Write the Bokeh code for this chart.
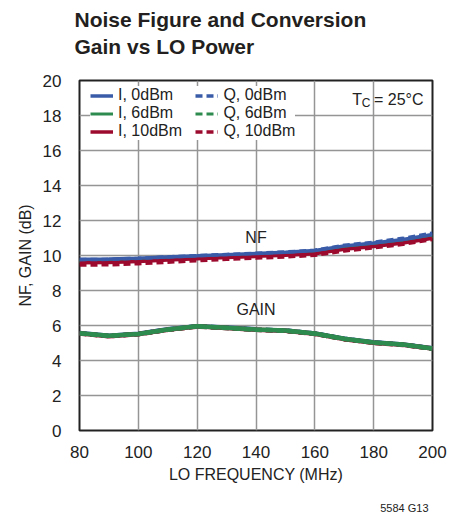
from bokeh.plotting import figure
from bokeh.models import Range1d, FixedTicker, Legend, LegendItem, Label, Title
from bokeh.embed import file_html
from bokeh.resources import INLINE

# ---- data ----
freq = [80, 90, 100, 110, 120, 130, 140, 150, 160, 170, 180, 190, 200]

nf_i0 = [9.78, 9.80, 9.85, 9.92, 9.98, 10.05, 10.12, 10.18, 10.28, 10.55, 10.72, 10.92, 11.20]
nf_q0 = [9.76, 9.78, 9.84, 9.92, 9.99, 10.06, 10.13, 10.20, 10.30, 10.58, 10.76, 10.98, 11.28]
nf_i6 = [9.68, 9.70, 9.75, 9.83, 9.90, 9.97, 10.04, 10.10, 10.20, 10.45, 10.62, 10.82, 11.08]
nf_q6 = [9.66, 9.68, 9.74, 9.82, 9.89, 9.96, 10.03, 10.09, 10.19, 10.44, 10.61, 10.81, 11.06]
nf_i10 = [9.58, 9.60, 9.66, 9.74, 9.81, 9.88, 9.95, 10.01, 10.10, 10.35, 10.52, 10.72, 10.98]
nf_q10 = [9.45, 9.47, 9.53, 9.62, 9.70, 9.78, 9.85, 9.92, 10.01, 10.26, 10.44, 10.64, 10.92]

gain_i0 = [5.57, 5.42, 5.53, 5.78, 5.96, 5.88, 5.78, 5.72, 5.55, 5.25, 5.04, 4.92, 4.70]
gain_q0 = [5.56, 5.41, 5.52, 5.77, 5.96, 5.87, 5.77, 5.71, 5.54, 5.24, 5.03, 4.91, 4.69]
gain_i6 = [5.56, 5.41, 5.52, 5.77, 5.96, 5.87, 5.77, 5.71, 5.54, 5.24, 5.03, 4.91, 4.69]
gain_q6 = [5.55, 5.40, 5.51, 5.76, 5.95, 5.86, 5.76, 5.70, 5.53, 5.23, 5.02, 4.90, 4.68]
gain_i10 = [5.55, 5.39, 5.51, 5.76, 5.95, 5.86, 5.76, 5.70, 5.53, 5.22, 5.02, 4.90, 4.68]
gain_q10 = [5.54, 5.39, 5.50, 5.75, 5.94, 5.86, 5.75, 5.69, 5.52, 5.22, 5.01, 4.89, 4.67]

x_ticks = [80, 100, 120, 140, 160, 180, 200]
y_ticks = [0, 2, 4, 6, 8, 10, 12, 14, 16, 18, 20]

title_lines = ["Noise Figure and Conversion", "Gain vs LO Power"]
x_label = "LO FREQUENCY (MHz)"
y_label = "NF, GAIN (dB)"
footnote = "5584 G13"

# ---- styles ----
FONT = "Liberation Sans"
TXT = "#222222"
BLUE = "#3a5ca8"
GREEN = "#2e8b4f"
RED = "#9c0b2e"
DASH = "7 4"

p = figure(width=449, height=514, output_backend="svg", toolbar_location=None,
           x_range=Range1d(80, 200), y_range=Range1d(0, 20),
           min_border_left=79, min_border_right=17,
           min_border_top=80, min_border_bottom=84)
p.title.visible = False

p.xaxis.ticker = FixedTicker(ticks=x_ticks)
p.yaxis.ticker = FixedTicker(ticks=y_ticks)
for ax in (p.xaxis, p.yaxis):
    ax.axis_line_color = None
    ax.major_tick_line_color = None
    ax.minor_tick_line_color = None
    ax.major_label_text_font = FONT
    ax.major_label_text_font_size = "17px"
    ax.major_label_text_color = TXT
    ax.axis_label_text_font = FONT
    ax.axis_label_text_font_size = "16px"
    ax.axis_label_text_font_style = "normal"
    ax.axis_label_text_color = TXT
p.xaxis.axis_label = x_label
p.yaxis.axis_label = y_label
p.xaxis.major_label_standoff = 9
p.yaxis.major_label_standoff = 12
p.xaxis.axis_label_standoff = 5
p.yaxis.axis_label_standoff = 6

p.xgrid.ticker = FixedTicker(ticks=x_ticks)
p.ygrid.ticker = FixedTicker(ticks=y_ticks)
p.grid.grid_line_color = "#959595"
p.grid.grid_line_width = 1.5
p.outline_line_color = "#222222"
p.outline_line_width = 2

# NF curves
r6 = p.line(freq, nf_i6, line_color=GREEN, line_width=3)
q6 = p.line(freq, nf_q6, line_color=GREEN, line_width=3, line_dash=DASH)
q10 = p.line(freq, nf_q10, line_color=RED, line_width=3.5, line_dash=DASH)
r10 = p.line(freq, nf_i10, line_color=RED, line_width=3.5)
q0 = p.line(freq, nf_q0, line_color=BLUE, line_width=3.5, line_dash=DASH)
r0 = p.line(freq, nf_i0, line_color=BLUE, line_width=3.5)

# Gain curves
p.line(freq, gain_i0, line_color=BLUE, line_width=4.5)
p.line(freq, gain_q0, line_color=BLUE, line_width=4.5, line_dash=DASH)
p.line(freq, gain_i10, line_color=RED, line_width=4.5)
p.line(freq, gain_q10, line_color=RED, line_width=4.5, line_dash=DASH)
p.line(freq, gain_q6, line_color=GREEN, line_width=4.5, line_dash=DASH)
p.line(freq, gain_i6, line_color=GREEN, line_width=4.5)

# legend: ncols=2 fills column by column
legend = Legend(items=[
    LegendItem(label="I, 0dBm   ", renderers=[r0]),
    LegendItem(label="I, 6dBm   ", renderers=[r6]),
    LegendItem(label="I, 10dBm   ", renderers=[r10]),
    LegendItem(label="Q, 0dBm", renderers=[q0]),
    LegendItem(label="Q, 6dBm", renderers=[q6]),
    LegendItem(label="Q, 10dBm", renderers=[q10]),
], location=(11, 290), ncols=2)
legend.label_text_font = FONT
legend.label_text_font_size = "16px"
legend.label_text_color = TXT
legend.glyph_width = 23
legend.glyph_height = 17
legend.label_height = 17
legend.label_standoff = 5
legend.spacing = -1
legend.padding = 5
legend.margin = 0
legend.border_line_color = None
legend.background_fill_color = "white"
legend.background_fill_alpha = 1.0
p.add_layout(legend)

def lab(x, y, text, size, align="left", baseline="alphabetic", xo=0, yo=0):
    p.add_layout(Label(x=x, y=y, text=text, text_font=FONT, text_font_size=size,
                       text_align=align, text_baseline=baseline,
                       text_color=TXT, x_offset=xo, y_offset=yo))

# curve labels
lab(140, 11.05, "NF", "16px", align="center", baseline="middle")
lab(140, 6.91, "GAIN", "16px", align="center", baseline="middle")

# T_C = 25°C
lab(196.94, 18.91, "= 25°C", "16px", align="right")
lab(196.94, 18.91, "C", "12px", align="right", xo=-53, yo=-3)
lab(196.94, 18.91, "T", "16px", align="right", xo=-61.5)

# title (two lines) above the frame; panels stack outward from the frame
p.add_layout(Title(text=" ", standoff=9, text_font=FONT, text_font_size="10px"), "above")
p.add_layout(Title(text=title_lines[1], align="left", offset=-5, standoff=2,
                   text_font=FONT, text_font_size="21px", text_font_style="bold",
                   text_color="#231f20"), "above")
p.add_layout(Title(text=title_lines[0], align="left", offset=-5, standoff=2,
                   text_font=FONT, text_font_size="21px", text_font_style="bold",
                   text_color="#231f20"), "above")

# footnote below the x axis
p.add_layout(Title(text=" ", standoff=0, text_font=FONT, text_font_size="10px"), "below")
p.add_layout(Title(text=footnote, align="right", offset=4, standoff=2,
                   text_font=FONT, text_font_size="11px", text_font_style="normal",
                   text_color=TXT), "below")

open("out.html", "w").write(file_html(p, INLINE))
